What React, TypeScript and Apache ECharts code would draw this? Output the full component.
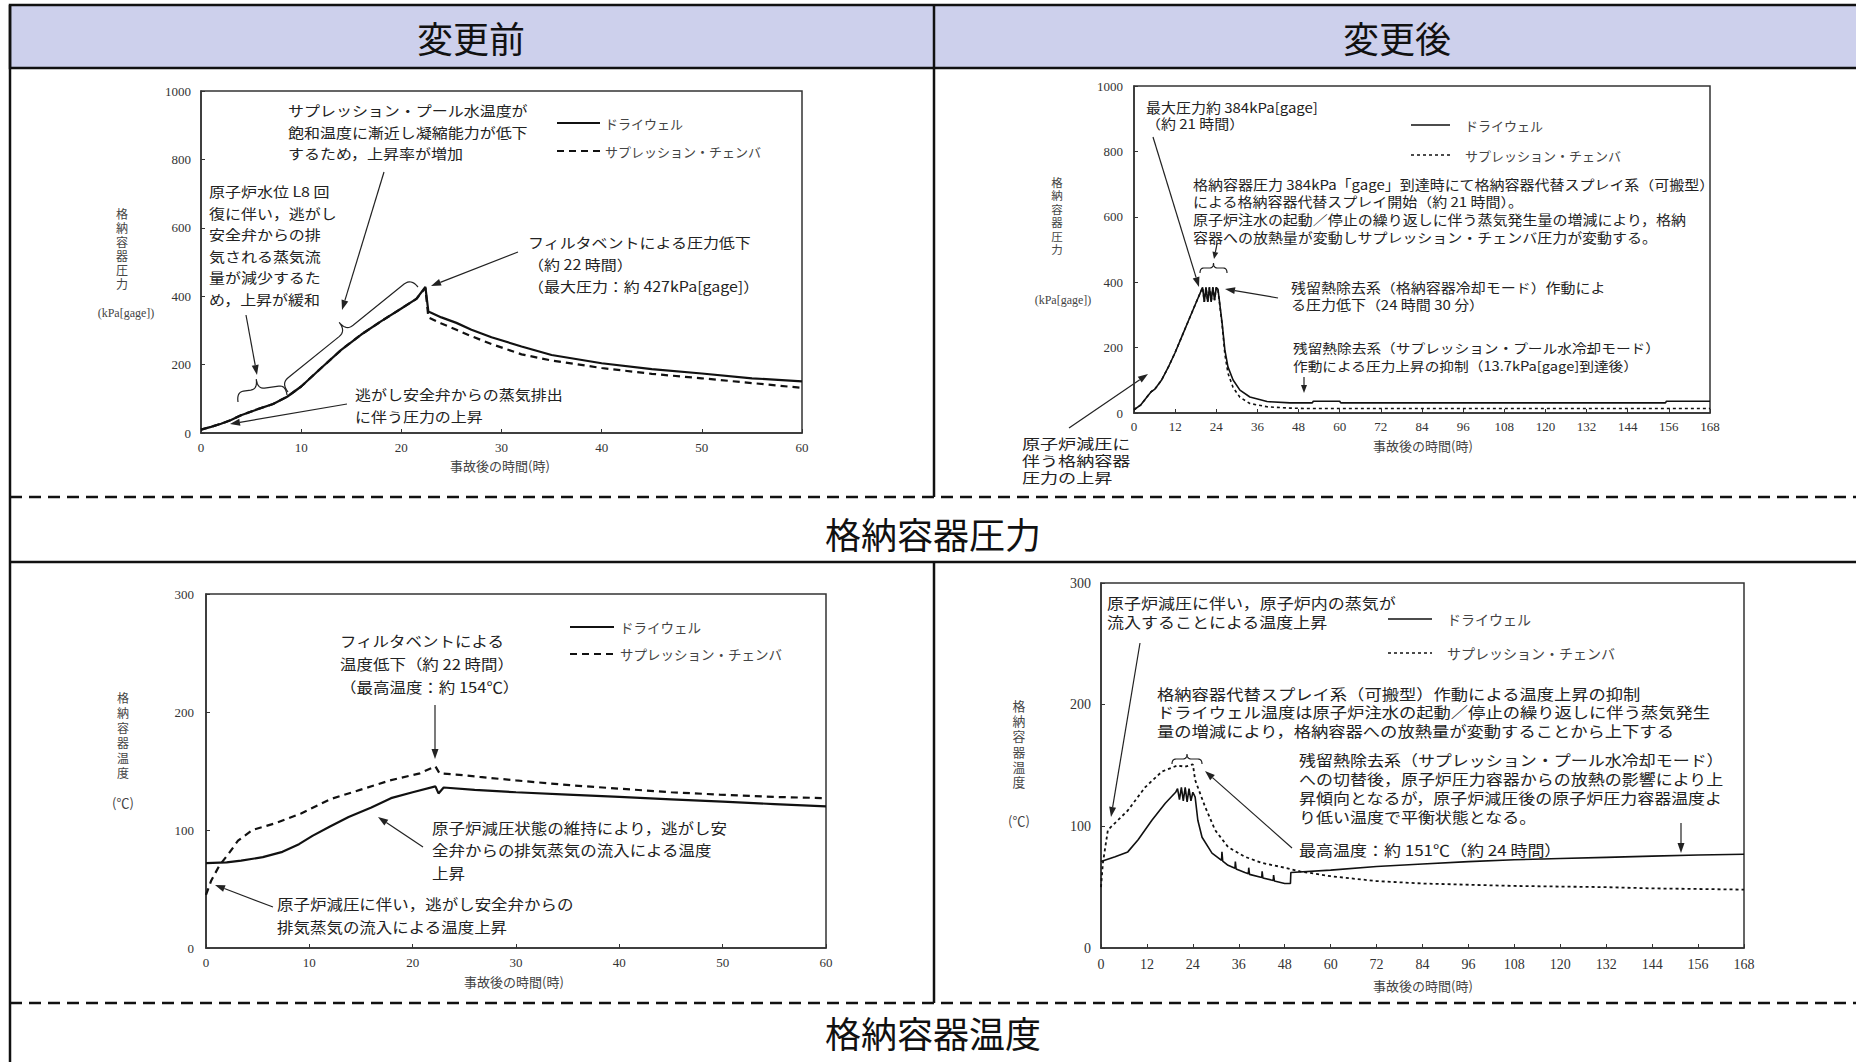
import React, { useEffect, useRef } from "react";
import * as echarts from "echarts";

// ---- data: [hours after accident, value] ----
// 変更前 格納容器圧力 (kPa[gage])
const pressureBeforeDW: [number, number][] = [
  [0, 10], [1, 18], [2, 27], [3, 38], [4, 52], [5.6, 69], [7.2, 85], [8.6, 106], [10, 136],
  [12, 190], [14, 243], [16, 288], [18, 327], [20, 364], [21.5, 392], [22.4, 427], [22.7, 355],
  [24, 338], [25.5, 322], [27, 302], [29, 280], [32, 253], [35, 228], [40, 204], [45, 187],
  [50, 174], [55, 160], [60, 151],
];
const pressureBeforeSC: [number, number][] = [
  [0, 10], [1, 18], [2, 27], [3, 38], [4, 52], [5.6, 69], [7.2, 85], [8.6, 106], [10, 136],
  [12, 190], [14, 243], [16, 288], [18, 327], [20, 364], [21.5, 392], [22.4, 424], [22.7, 338],
  [24, 320], [25.5, 302], [27, 283], [29, 260], [32, 230], [35, 212], [40, 190], [45, 173],
  [50, 160], [55, 146], [60, 132],
];
// 変更後 格納容器圧力 (kPa[gage])
const pressureAfterDW: [number, number][] = [
  [0, 10], [2, 25], [4, 52], [5, 65], [6, 72], [8, 100], [10, 140], [12, 185], [14, 235],
  [16, 285], [18, 335], [20, 384], [20.5, 340], [21, 384], [21.5, 340], [22, 384], [22.5, 340],
  [23, 384], [23.5, 345], [24, 384], [24.5, 378], [25.7, 275], [26.5, 193], [27.4, 141],
  [28.9, 101], [30.9, 70], [33.8, 49], [38.8, 35], [45.5, 31], [52, 31], [52.3, 36], [60, 36],
  [60.3, 31], [155, 31], [155.3, 36], [168, 36],
];
const pressureAfterSC: [number, number][] = [
  [0, 10], [2, 25], [4, 52], [5, 65], [6, 72], [8, 100], [10, 140], [12, 185], [14, 235],
  [16, 285], [18, 335], [20, 384], [20.5, 340], [21, 384], [21.5, 340], [22, 384], [22.5, 340],
  [23, 384], [23.5, 345], [24, 384], [24.5, 375], [25.7, 270], [26.5, 180], [27.4, 122],
  [28.9, 78], [30.9, 48], [33.8, 29], [38.8, 19], [45.5, 15], [50, 13.7], [168, 13.7],
];
// 変更前 格納容器温度 (℃)
const tempBeforeDW: [number, number][] = [
  [0, 72], [2, 72.5], [3.4, 74], [5.5, 77], [7.4, 81.5], [9, 88], [10.3, 95], [12, 103],
  [13.8, 111], [16, 119], [17.9, 127], [20, 132], [22.2, 137], [22.5, 131], [23, 136],
  [26, 134], [30, 132], [35, 130], [40, 128], [45, 126], [50, 124], [55, 122], [60, 120],
];
const tempBeforeSC: [number, number][] = [
  [0, 45], [0.5, 57], [1.3, 70], [2.2, 80], [3.1, 91], [4.5, 100], [6.8, 106], [9.2, 114],
  [12, 126], [14.9, 134], [17.8, 142], [20.7, 148], [22.2, 154], [22.6, 148], [24.2, 147],
  [26.5, 145], [30, 142], [35.2, 138], [40, 135], [45, 132], [49.7, 130], [55, 128], [60, 127],
];
// 変更後 格納容器温度 (℃)
const tempAfterDW: [number, number][] = [
  [0, 71], [3.7, 75], [7, 79], [9.7, 89], [13.3, 105], [16.8, 119], [19.5, 128], [20, 131],
  [20.5, 122], [21, 132], [21.5, 121], [22, 132], [22.5, 120], [23, 131], [23.5, 121], [24, 128],
  [24.6, 124], [25.3, 105], [26.4, 91], [29, 78], [31.5, 72], [31.6, 79], [31.8, 71.5],
  [33.2, 68], [35, 65.5], [35.1, 71], [35.3, 65], [37.6, 62], [38.5, 61], [38.6, 66],
  [38.8, 60.5], [42, 58], [42.1, 63], [42.3, 57.5], [45, 55.5], [45.1, 60], [45.3, 55],
  [48, 53], [49.5, 53], [49.6, 62], [60, 64], [72, 67], [84, 69], [96, 71], [108, 72.5],
  [120, 73.5], [132, 74.5], [144, 75.5], [156, 76.5], [168, 77],
];
const tempAfterSC: [number, number][] = [
  [0, 50], [0.5, 70], [1.8, 97], [4.4, 105], [7, 113], [11.5, 132], [15.9, 145], [20, 150],
  [22, 149], [24, 151], [24.6, 138], [27.2, 116], [29.8, 97], [33.2, 83], [37.6, 75], [42, 70],
  [48, 66], [52, 63], [60, 59], [72, 55], [84, 53], [96, 52], [108, 51], [120, 50.5],
  [132, 50], [144, 49], [156, 48.5], [168, 48],
];

// axis ranges
const hoursBefore = { max: 60, interval: 10 };
const hoursAfter = { max: 168, interval: 12 };
const pressureRange = { max: 1000, interval: 200 };
const tempRange = { max: 300, interval: 100 };

const DW = "ドライウェル";
const SC = "サプレッション・チェンバ";
const X_NAME = "事故後の時間(時)";

const FONT_JP = '"Noto Sans CJK JP", "Noto Sans", sans-serif';
const FONT_NUM = '"Liberation Serif", "DejaVu Serif", serif';
const INK = "#222";
// annotation glyphs are drawn a little flatter than wide
const FLAT = 0.88;

// ---- graphic helpers ----
function textBlock(x: number, yFirst: number, lines: string[], pitch: number, lh: number, sx = 1): any {
  const size = pitch * FLAT;
  return {
    type: "text",
    x,
    y: yFirst - lh / 2,
    scaleX: sx / FLAT,
    silent: true,
    style: {
      text: lines.join("\n"),
      font: `${size}px ${FONT_JP}`,
      fill: INK,
      lineHeight: lh,
      align: "left",
      verticalAlign: "top",
    },
  };
}

function centered(x: number, y: number, text: string, size: number, family = FONT_JP, fill = INK): any {
  return {
    type: "text",
    x,
    y,
    silent: true,
    style: { text, font: `${size}px ${family}`, fill, align: "center", verticalAlign: "middle" },
  };
}

function vertical(x: number, yFirst: number, text: string, size: number, pitch: number): any {
  return {
    type: "text",
    x,
    y: yFirst - pitch / 2,
    silent: true,
    style: {
      text: text.split("").join("\n"),
      font: `${size}px ${FONT_JP}`,
      fill: "#444",
      lineHeight: pitch,
      align: "center",
      verticalAlign: "top",
    },
  };
}

function arrow(x1: number, y1: number, x2: number, y2: number, head = 10, half = 3.5): any[] {
  const dx = x2 - x1;
  const dy = y2 - y1;
  const L = Math.hypot(dx, dy);
  const ux = dx / L;
  const uy = dy / L;
  const bx = x2 - ux * head;
  const by = y2 - uy * head;
  return [
    { type: "line", silent: true, shape: { x1, y1, x2: bx, y2: by }, style: { stroke: INK, lineWidth: 1.2 } },
    {
      type: "polygon",
      silent: true,
      shape: { points: [[x2, y2], [bx - uy * half, by + ux * half], [bx + uy * half, by - ux * half]] },
      style: { fill: INK },
    },
  ];
}

function quad(p0: number[], c: number[], p1: number[], n = 8): number[][] {
  const out: number[][] = [];
  for (let i = 1; i <= n; i++) {
    const t = i / n;
    const a = (1 - t) * (1 - t);
    const b = 2 * (1 - t) * t;
    const d = t * t;
    out.push([a * p0[0] + b * c[0] + d * p1[0], a * p0[1] + b * c[1] + d * p1[1]]);
  }
  return out;
}

// curly brace from (x1,y1) to (x2,y2); the tip points to the left of the travel direction
function brace(x1: number, y1: number, x2: number, y2: number, h: number, f = 0.5): any {
  const dx = x2 - x1;
  const dy = y2 - y1;
  const L = Math.hypot(dx, dy);
  const ux = dx / L;
  const uy = dy / L;
  const nx = uy;
  const ny = -ux;
  const r = Math.min(L * 0.14, 9);
  const m = f * L;
  const local: number[][] = [[0, 0]];
  local.push(...quad([0, 0], [0, h / 2], [r, h / 2]));
  local.push([m - r, h / 2]);
  local.push(...quad([m - r, h / 2], [m, h / 2], [m, h]));
  local.push(...quad([m, h], [m, h / 2], [m + r, h / 2]));
  local.push([L - r, h / 2]);
  local.push(...quad([L - r, h / 2], [L, h / 2], [L, 0]));
  const points = local.map(([u, v]) => [x1 + u * ux + v * nx, y1 + u * uy + v * ny]);
  return { type: "polyline", silent: true, shape: { points }, style: { stroke: INK, lineWidth: 1.2, fill: null } };
}

function legend(xa: number, xb: number, xt: number, y1: number, y2: number, dash: number[], size: number, w: number): any[] {
  return [
    { type: "line", silent: true, shape: { x1: xa, y1, x2: xb, y2: y1 }, style: { stroke: "#111", lineWidth: w } },
    { type: "line", silent: true, shape: { x1: xa, y1: y2, x2: xb, y2 }, style: { stroke: "#111", lineWidth: w, lineDash: dash } },
    { type: "text", silent: true, x: xt, y: y1, style: { text: DW, font: `${size}px ${FONT_JP}`, fill: "#444", verticalAlign: "middle" } },
    { type: "text", silent: true, x: xt, y: y2, style: { text: SC, font: `${size}px ${FONT_JP}`, fill: "#444", verticalAlign: "middle" } },
  ];
}

// ---- layout of the four plots ----
const grids = [
  { left: 201, top: 91, width: 601, height: 342 },
  { left: 1134, top: 86, width: 576, height: 327 },
  { left: 206, top: 594, width: 620, height: 354 },
  { left: 1101, top: 583, width: 643, height: 365 },
];

const plain = (v: number) => String(v);

function xAxis(i: number, r: { max: number; interval: number }, size: number, margin: number): any {
  return {
    type: "value",
    gridIndex: i,
    min: 0,
    max: r.max,
    interval: r.interval,
    axisLine: { show: true, onZero: false, lineStyle: { color: "#333", width: 1.5 } },
    axisTick: { show: true, inside: true, length: 4, lineStyle: { color: "#333", width: 1 } },
    axisLabel: { color: "#333", fontFamily: FONT_NUM, fontSize: size, margin, formatter: plain },
    splitLine: { show: false },
  };
}

function yAxis(i: number, r: { max: number; interval: number }, size: number, margin: number): any {
  return {
    type: "value",
    gridIndex: i,
    min: 0,
    max: r.max,
    interval: r.interval,
    axisLine: { show: true, onZero: false, lineStyle: { color: "#333", width: 1.5 } },
    axisTick: { show: true, inside: true, length: 4, lineStyle: { color: "#333", width: 1 } },
    axisLabel: { color: "#333", fontFamily: FONT_NUM, fontSize: size, margin, formatter: plain },
    splitLine: { show: false },
  };
}

function line(i: number, name: string, data: [number, number][], width: number, dash?: number[]): any {
  return {
    type: "line",
    name,
    xAxisIndex: i,
    yAxisIndex: i,
    data,
    showSymbol: false,
    symbol: "none",
    silent: true,
    lineStyle: { color: "#111", width, type: dash ? dash : "solid" },
    z: name === DW ? 3 : 2,
  };
}

export default function App() {
  const ref = useRef<HTMLDivElement>(null);

  useEffect(() => {
    document.body.style.margin = "0";
    document.body.style.overflow = "hidden";
    if (!ref.current) return;
    const chart = echarts.init(ref.current, undefined, { renderer: "svg" });

    const frame: any[] = [
      { type: "rect", silent: true, shape: { x: 10, y: 5, width: 1870, height: 63 }, style: { fill: "#cdd0ec", stroke: "#111", lineWidth: 2.5 } },
      { type: "line", silent: true, shape: { x1: 10, y1: 5, x2: 10, y2: 1070 }, style: { stroke: "#111", lineWidth: 2.5 } },
      { type: "line", silent: true, shape: { x1: 934, y1: 5, x2: 934, y2: 497 }, style: { stroke: "#111", lineWidth: 2.5 } },
      { type: "line", silent: true, shape: { x1: 10, y1: 497, x2: 1860, y2: 497 }, style: { stroke: "#111", lineWidth: 2.5, lineDash: [12, 7] } },
      { type: "line", silent: true, shape: { x1: 10, y1: 562, x2: 1860, y2: 562 }, style: { stroke: "#111", lineWidth: 2.5 } },
      { type: "line", silent: true, shape: { x1: 934, y1: 562, x2: 934, y2: 1003 }, style: { stroke: "#111", lineWidth: 2.5 } },
      { type: "line", silent: true, shape: { x1: 10, y1: 1003, x2: 1860, y2: 1003 }, style: { stroke: "#111", lineWidth: 2.5, lineDash: [12, 7] } },
      centered(471, 37, "変更前", 36, FONT_JP, "#111"),
      centered(1397, 37, "変更後", 36, FONT_JP, "#111"),
      centered(933, 533, "格納容器圧力", 36, FONT_JP, "#111"),
      centered(933, 1032, "格納容器温度", 36, FONT_JP, "#111"),
    ];

    const axisNames: any[] = [
      vertical(122, 213, "格納容器圧力", 12, 14),
      centered(126, 313, "(kPa[gage])", 12, FONT_NUM, "#444"),
      centered(500, 465, X_NAME, 13, FONT_JP, "#444"),
      vertical(1057, 182, "格納容器圧力", 11.5, 13.4),
      centered(1063, 300, "(kPa[gage])", 12, FONT_NUM, "#444"),
      centered(1423, 445, X_NAME, 13, FONT_JP, "#444"),
      vertical(123, 697, "格納容器温度", 12, 15.2),
      centered(123, 802, "(℃)", 13, FONT_JP, "#444"),
      centered(514, 981, X_NAME, 13, FONT_JP, "#444"),
      vertical(1019, 705, "格納容器温度", 12.8, 15.4),
      centered(1019, 820, "(℃)", 13, FONT_JP, "#444"),
      centered(1423, 985, X_NAME, 13, FONT_JP, "#444"),
    ];

    const legends: any[] = [
      ...legend(557, 600, 605, 123, 151, [7, 5], 13, 2.2),
      ...legend(1411, 1450, 1465, 125, 155, [3, 3], 13, 1.5),
      ...legend(570, 614, 620, 627, 654, [7, 5], 13.5, 2.2),
      ...legend(1388, 1432, 1447, 619, 653, [3, 3], 14, 1.5),
    ];

    const notes: any[] = [
      // 変更前 圧力
      textBlock(288, 110, ["サプレッション・プール水温度が", "飽和温度に漸近し凝縮能力が低下", "するため，上昇率が増加"], 16, 21.5),
      ...arrow(384, 172, 342, 310),
      textBlock(209, 191, ["原子炉水位 L8 回", "復に伴い，逃がし", "安全弁からの排", "気される蒸気流", "量が減少するた", "め，上昇が緩和"], 16, 21.5),
      ...arrow(246, 315, 257, 375),
      brace(238, 402, 287, 395, 20, 0.43),
      brace(288, 392, 418, 287, 22, 0.5),
      textBlock(528, 242, ["フィルタベントによる圧力低下", "（約 22 時間）", "（最大圧力：約 427kPa[gage]）"], 16, 22),
      ...arrow(518, 252, 431, 286),
      textBlock(355, 394, ["逃がし安全弁からの蒸気排出", "に伴う圧力の上昇"], 16, 21.5),
      ...arrow(347, 404, 230, 424),

      // 変更後 圧力
      textBlock(1146, 107, ["最大圧力約 384kPa[gage]", "（約 21 時間）"], 15, 16.5),
      ...arrow(1153, 137, 1199, 287),
      textBlock(1193, 184, [
        "格納容器圧力 384kPa「gage」到達時にて格納容器代替スプレイ系（可搬型）",
        "による格納容器代替スプレイ開始（約 21 時間）。",
        "原子炉注水の起動／停止の繰り返しに伴う蒸気発生量の増減により，格納",
        "容器への放熱量が変動しサプレッション・チェンバ圧力が変動する。",
      ], 15, 17.7),
      brace(1200, 273, 1227, 273, 10),
      ...arrow(1217, 244, 1214, 259, 7, 3),
      textBlock(1291, 287, ["残留熱除去系（格納容器冷却モード）作動によ", "る圧力低下（24 時間 30 分）"], 15, 17.3),
      ...arrow(1278, 298, 1225, 289),
      textBlock(1293, 347, ["残留熱除去系（サプレッション・プール水冷却モード）", "作動による圧力上昇の抑制（13.7kPa[gage]到達後）"], 14.7, 18),
      ...arrow(1304, 377, 1304, 393, 8, 3),
      textBlock(1022, 443, ["原子炉減圧に", "伴う格納容器", "圧力の上昇"], 16, 17, 1.13),
      ...arrow(1069, 428, 1148, 374),

      // 変更前 温度
      textBlock(340, 640, ["フィルタベントによる", "温度低下（約 22 時間）", "（最高温度：約 154℃）"], 16.5, 23),
      ...arrow(435, 705, 435, 759),
      textBlock(432, 827, ["原子炉減圧状態の維持により，逃がし安", "全弁からの排気蒸気の流入による温度", "上昇"], 16.5, 22.5),
      ...arrow(423, 847, 378, 817),
      textBlock(277, 903, ["原子炉減圧に伴い，逃がし安全弁からの", "排気蒸気の流入による温度上昇"], 16.5, 23),
      ...arrow(273, 907, 215, 885),

      // 変更後 温度
      textBlock(1107, 602, ["原子炉減圧に伴い，原子炉内の蒸気が", "流入することによる温度上昇"], 17, 19),
      ...arrow(1140, 643, 1111, 817),
      textBlock(1157, 693, [
        "格納容器代替スプレイ系（可搬型）作動による温度上昇の抑制",
        "ドライウェル温度は原子炉注水の起動／停止の繰り返しに伴う蒸気発生",
        "量の増減により，格納容器への放熱量が変動することから上下する",
      ], 17.3, 18.5),
      brace(1172, 764, 1202, 764, 10),
      textBlock(1299, 759, [
        "残留熱除去系（サプレッション・プール水冷却モード）",
        "への切替後，原子炉圧力容器からの放熱の影響により上",
        "昇傾向となるが，原子炉減圧後の原子炉圧力容器温度よ",
        "り低い温度で平衡状態となる。",
      ], 17, 19),
      ...arrow(1681, 823, 1681, 853),
      textBlock(1299, 849, ["最高温度：約 151℃（約 24 時間）"], 17, 19),
      ...arrow(1292, 848, 1205, 771),
    ];

    chart.setOption({
      animation: false,
      backgroundColor: "#ffffff",
      grid: grids.map((g) => ({ ...g, show: true, borderColor: "#333", borderWidth: 1.5, backgroundColor: "transparent" })),
      xAxis: [
        xAxis(0, hoursBefore, 13, 8),
        xAxis(1, hoursAfter, 13, 7),
        xAxis(2, hoursBefore, 13, 8),
        xAxis(3, hoursAfter, 14, 9),
      ],
      yAxis: [
        yAxis(0, pressureRange, 13, 10),
        yAxis(1, pressureRange, 13, 11),
        yAxis(2, tempRange, 13, 12),
        yAxis(3, tempRange, 14, 10),
      ],
      series: [
        line(0, DW, pressureBeforeDW, 2.2),
        line(0, SC, pressureBeforeSC, 2.2, [7, 5]),
        line(1, DW, pressureAfterDW, 1.6),
        line(1, SC, pressureAfterSC, 1.6, [3, 3]),
        line(2, DW, tempBeforeDW, 2.2),
        line(2, SC, tempBeforeSC, 2.2, [7, 5]),
        line(3, DW, tempAfterDW, 1.6),
        line(3, SC, tempAfterSC, 1.8, [3, 3]),
      ],
      graphic: { elements: [...frame, ...axisNames, ...legends, ...notes] },
    });

    return () => chart.dispose();
  }, []);

  return <div ref={ref} style={{ width: 1856, height: 1062 }} />;
}
